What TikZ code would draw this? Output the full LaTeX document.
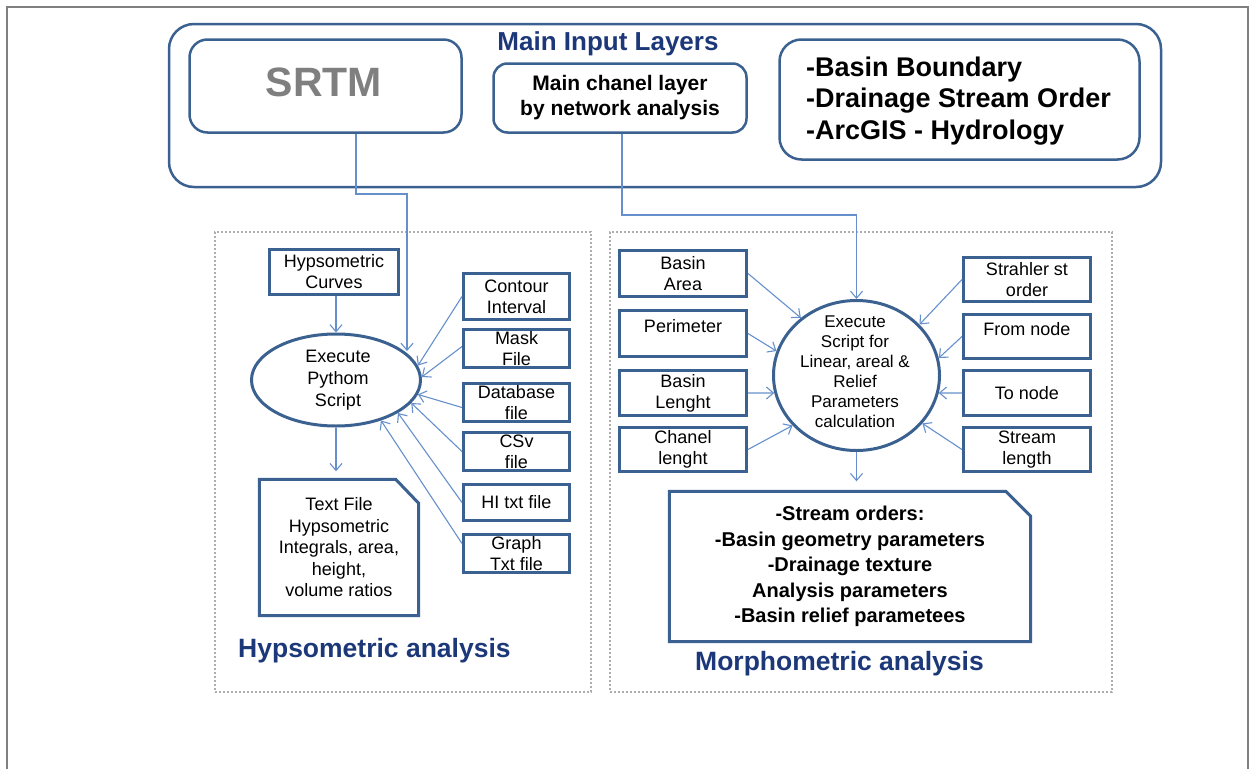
\documentclass[tikz,border=0pt]{standalone}
\usepackage{fontspec}
\setmainfont{Liberation Sans}
\usetikzlibrary{arrows.meta,shapes.geometric,calc}
\definecolor{boxc}{HTML}{3A6190}
\definecolor{linec}{HTML}{6690CC}
\definecolor{navy}{HTML}{1C3878}
\definecolor{framec}{HTML}{808080}
\definecolor{dotc}{HTML}{ADADAD}
\definecolor{srtmc}{HTML}{7F7F7F}
\newcommand\fsz[2]{\fontsize{#1}{#2}\selectfont}
\begin{document}
\begin{tikzpicture}[x=1pt,y=-1pt,
  bx/.style={draw=boxc, line width=3pt, align=center, inner sep=0pt, font=\fsz{18}{21}},
  rbox/.style={draw=boxc, line width=2.5pt, rounded corners=#1, inner sep=0pt},
  dbox/.style={draw=dotc, line width=2.6pt, dash pattern=on 2.3pt off 1.7pt, inner sep=0pt},
  ell/.style={ellipse, draw=boxc, line width=3pt, inner sep=0pt},
  docline/.style={draw=boxc, line width=3pt, line join=miter},
  arr/.style={draw=linec, line width=1.1pt, -{Straight Barb[length=7pt,width=12pt]}},
  ttl/.style={text=navy, font=\bfseries\fsz{26.5}{30}, inner sep=0pt},
  txt/.style={inner sep=0pt, align=center}
]
\useasboundingbox (0,0) rectangle (1254,769);
\draw[framec, line width=2pt] (7,769) -- (7,7) -- (1248,7) -- (1248,769);

% ---------- main input layers ----------
\node[rbox=25pt, minimum width=992, minimum height=163] (mainbox) at (665,105.5) {};
\node[ttl, font=\bfseries\fsz{26}{30}] (maintitle) at (608,44) {Main Input Layers};
\node[rbox=18pt, minimum width=272, minimum height=93] (srtm) at (325.5,86) {};
\node[txt, text=srtmc, font=\bfseries\fsz{41}{45}] (srtmtxt) at (324,82) {SRTM};
\node[rbox=14pt, minimum width=253, minimum height=69, align=center, font=\bfseries\fsz{21}{25}] (chanel) at (620,98) {Main chanel layer\\by network analysis};
\node[rbox=22pt, minimum width=360, minimum height=120] (rightbox) at (959.5,99.5) {};
\node[txt, align=left, anchor=west, font=\bfseries\fsz{27}{31.5}] (righttxt) at (806,101) {-Basin Boundary\\-Drainage Stream Order\\-ArcGIS - Hydrology};

% ---------- hypsometric ----------
\node[dbox, minimum width=376, minimum height=460] (hypbox) at (403,462) {};
\node[bx, minimum width=129, minimum height=45] (hcurve) at (334,272) {Hypsometric\\Curves};
\node[ell, minimum width=169, minimum height=92] (hell) at (336,380) {};
\node[txt, font=\fsz{18}{22}] (helltxt) at (338,380) {Execute\\Pythom\\Script};
\node[txt, minimum width=159, minimum height=136, font=\fsz{18}{21.5}] (tf) at (339,547.5) {Text File\\Hypsometric\\Integrals, area,\\height,\\volume ratios};
\draw[docline] (tf.south west) -- (tf.north west) -- ([xshift=-23pt]tf.north east) -- ([yshift=-24pt]tf.north east) -- (tf.south east) -- cycle;

\node[bx, minimum width=106, minimum height=46] (contour) at (516.5,296.5) {Contour\\Interval};
\node[bx, minimum width=106, minimum height=38] (mask) at (516.5,348.5) {Mask\\File};
\node[bx, minimum width=106, minimum height=38] (db) at (516.5,402.5) {Database\\file};
\node[bx, minimum width=106, minimum height=38] (csv) at (516.5,451.5) {CSv\\file};
\node[bx, minimum width=106, minimum height=36] (hi) at (516.5,502.5) {HI txt file};
\node[bx, minimum width=106, minimum height=38] (graph) at (516.5,553.5) {Graph\\Txt file};
\node[ttl, anchor=base west] (hyptitle) at (238,657) {Hypsometric analysis};

% ---------- morphometric ----------
\node[dbox, minimum width=502, minimum height=460] (morphbox) at (861,462) {};
\node[bx, minimum width=127, minimum height=46] (barea) at (683,273.5) {Basin\\Area};
\node[bx, minimum width=127, minimum height=46, text depth=15pt] (perim) at (683,333.5) {Perimeter};
\node[bx, minimum width=127, minimum height=45] (blen) at (683,393) {Basin\\Lenght};
\node[bx, minimum width=127, minimum height=44] (chanlen) at (683,449.5) {Chanel\\lenght};
\node[bx, minimum width=127, minimum height=44] (strah) at (1027,279.5) {Strahler st\\order};
\node[bx, minimum width=127, minimum height=44, text depth=15pt] (from) at (1027,336.5) {From node};
\node[bx, minimum width=127, minimum height=45] (to) at (1027,393) {To node};
\node[bx, minimum width=127, minimum height=44] (stream) at (1027,449.5) {Stream\\length};
\node[ell, minimum width=166, minimum height=150] (mell) at (856.5,375.5) {};
\node[txt, font=\fsz{17}{20}] (melltxt) at (855,372) {Execute\\Script for\\Linear, areal \&\\Relief\\Parameters\\calculation};
\node[txt, minimum width=361, minimum height=150, font=\bfseries\fsz{20}{25.5}] (out) at (850,566.5) {-Stream orders:\\-Basin geometry parameters\\-Drainage texture\\Analysis parameters\\-Basin relief parametees};
\draw[docline] (out.south west) -- (out.north west) -- ([xshift=-25pt]out.north east) -- ([yshift=-25pt]out.north east) -- (out.south east) -- cycle;
\node[ttl, anchor=base west] (morphtitle) at (695,670) {Morphometric analysis};

% ---------- connectors ----------
\coordinate (s1) at (407,194);
\draw[arr] ([xshift=30.5pt]srtm.south) |- (s1) -- (s1 |- hell.23);
\coordinate (c1) at (856.5,215);
\draw[arr] ([xshift=2pt]chanel.south) |- (c1) -- (mell.north);

\draw[arr] (hell.north |- hcurve.south) -- (hell.north);
\draw[arr] (hell.south) -- ($(hell.south |- tf.north)+(0,-8)$);
\draw[arr] (contour.west) -- (hell.10);
\draw[arr] ([yshift=2pt]mask.west) -- (hell.2);
\draw[arr] ([yshift=-5pt]db.west) -- (hell.-10);
\draw[arr] (csv.west) -- (hell.-17);
\draw[arr] (hi.west) -- (hell.-28);
\draw[arr] ([yshift=10pt]graph.west) -- (hell.-42);

\draw[arr] (barea.east) -- (mell.134);
\draw[arr] (perim.east) -- (mell.163);
\draw[arr] (blen.east) -- (mell.192);
\draw[arr] (chanlen.east) -- (mell.218);
\draw[arr] (strah.west) -- (mell.39.5);
\draw[arr] (from.west) -- (mell.12);
\draw[arr] (to.west) -- (mell.-12);
\draw[arr] (stream.west) -- (mell.-36);
\draw[arr] (mell.south) -- ($(mell.south |- out.north)+(0,-10)$);
\end{tikzpicture}
\end{document}
